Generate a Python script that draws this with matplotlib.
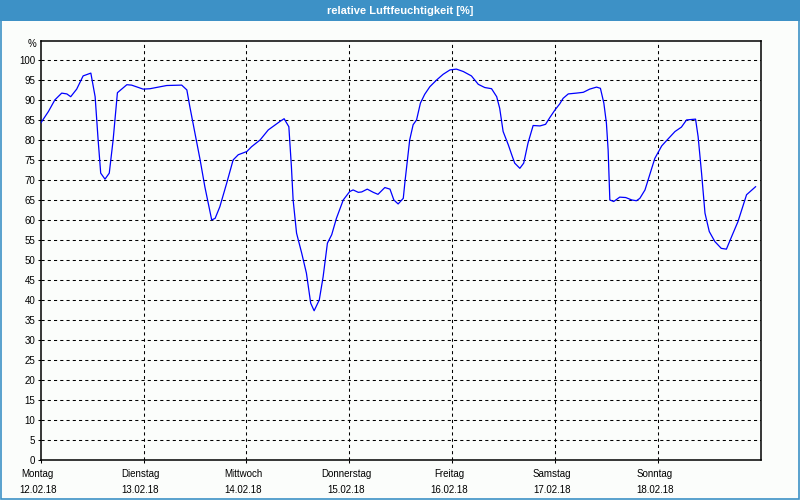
import matplotlib
matplotlib.use("Agg")
import matplotlib.pyplot as plt
import matplotlib.transforms as mtransforms
from matplotlib.patches import Rectangle

# hours since Montag 12.02.18 00:00
hours = [0, 1.8, 3.3, 4.9, 6.1, 7.0, 8.4, 9.9, 11.7, 12.7, 13.4, 14.0, 15.0, 16.0,
         16.9, 17.9, 20.1, 21.2, 23.9, 25.5, 27.4, 29.4, 32.9, 34.1, 34.8, 36.0,
         37.2, 38.3, 39.9, 40.7, 41.8, 43.4, 44.9, 46.1, 48.1, 49.2, 51.2, 53.1,
         55.8, 56.8, 57.9, 58.5, 58.9, 59.7, 60.9, 62.0, 63.0, 63.8, 65.0, 65.9,
         66.9, 67.9, 69.0, 70.6, 72.1, 72.9, 74.1, 74.9, 76.2, 77.6, 78.7, 80.3,
         81.5, 82.4, 83.4, 84.6, 85.0, 85.7, 86.1, 86.9, 87.7, 88.6, 89.6, 90.8,
         92.4, 93.9, 95.5, 97.0, 98.6, 100.5, 102.1, 103.6, 105.2, 106.4, 107.1,
         107.9, 109.1, 109.9, 110.6, 111.8, 112.7, 113.7, 114.9, 116.5, 117.8,
         118.8, 120.0, 121.1, 121.9, 123.1, 125.0, 126.6, 128.1, 129.7, 130.6,
         131.4, 132.0, 132.4, 132.8, 133.7, 135.1, 136.5, 137.9, 139.0, 139.8,
         141.0, 142.1, 143.3, 144.9, 146.0, 148.0, 149.5, 150.7, 152.8, 153.4,
         154.2, 155.0, 156.0, 157.3, 158.8, 160.0, 161.2, 162.7, 164.7, 166.8]
humidity = [84.2, 87.1, 90.0, 91.7, 91.5, 90.8, 92.7, 96.0, 96.7, 90.8, 80.0, 71.7, 70.2, 71.7,
            80.0, 91.8, 93.8, 93.7, 92.7, 92.8, 93.2, 93.6, 93.7, 92.5, 88.3, 81.7,
            75.0, 68.3, 60.0, 60.4, 63.3, 69.2, 75.0, 76.3, 77.1, 78.3, 80.0, 82.5,
            84.6, 85.3, 83.3, 73.3, 65.0, 56.7, 51.7, 46.7, 39.2, 37.3, 40.0, 45.8,
            54.2, 56.3, 60.4, 65.0, 67.1, 67.5, 66.9, 67.0, 67.7, 66.9, 66.4, 68.1,
            67.7, 65.0, 64.0, 65.4, 69.6, 76.3, 80.0, 83.8, 85.0, 89.2, 91.4, 93.3,
            95.0, 96.4, 97.5, 97.7, 97.1, 96.0, 93.9, 93.1, 92.8, 90.8, 87.9,
            82.1, 78.8, 76.3, 74.2, 72.9, 74.2, 79.2, 83.6, 83.5, 83.9,
            85.6, 87.5, 89.0, 90.4, 91.5, 91.7, 91.9, 92.7, 93.2, 92.9,
            89.2, 84.2, 77.5, 65.0, 64.6, 65.7, 65.6, 65.0, 64.8, 65.4,
            67.5, 71.3, 75.4, 78.5, 79.8, 82.1, 83.2, 85.0, 85.2, 80.8,
            71.7, 61.7, 57.1, 54.6, 52.9, 52.7, 55.8, 59.6, 66.3, 68.3]

day_names = ["Montag", "Dienstag", "Mittwoch", "Donnerstag", "Freitag", "Samstag", "Sonntag"]
day_dates = ["12.02.18", "13.02.18", "14.02.18", "15.02.18", "16.02.18", "17.02.18", "18.02.18"]
y_ticks = list(range(0, 101, 5))

bg = "#fbfdfb"
bar_blue = "#3d91c6"
plt.rcParams["font.family"] = ["Liberation Sans", "DejaVu Sans"]

fig = plt.figure(figsize=(8, 5), dpi=100, facecolor=bg)
ax = fig.add_axes([40.7 / 800, 40 / 500, 720 / 800, 419.3 / 500])
ax.set_facecolor(bg)

# title bar and thin frame
fig.patches.append(Rectangle((0, 1 - 20.7 / 500), 1, 20.7 / 500, transform=fig.transFigure,
                             facecolor=bar_blue, edgecolor="none", zorder=0))
fig.patches.append(Rectangle((0.6 / 800, 0.6 / 500), 798.8 / 800, 498.8 / 500, transform=fig.transFigure,
                             facecolor="none", edgecolor=bar_blue, lw=1.2, zorder=1))
fig.text(0.5, 1 - 10.5 / 500, "relative Luftfeuchtigkeit [%]", color="white",
         fontsize=8, fontweight="bold", ha="center", va="center")

ax.plot(hours, humidity, color="#0000ff", lw=0.9, zorder=3)

ax.set_xlim(0, 168)
ax.set_ylim(0, 104.8)

for y in y_ticks[1:]:
    ax.axhline(y, color="black", lw=0.75, linestyle=(0, (3, 3)), zorder=1)
for d in range(1, 7):
    ax.axvline(d * 24, color="black", lw=0.75, linestyle=(0, (3, 3)), zorder=1)

ax.set_yticks(y_ticks)
ax.set_yticklabels([str(v) for v in y_ticks], fontsize=7)
ax.set_xticks([d * 24 for d in range(7)])
ax.set_xticklabels([n + "\n" + dt for n, dt in zip(day_names, day_dates)],
                   fontsize=7, linespacing=1.75)
ax.tick_params(axis="y", length=2, width=0.75, pad=2)
ax.tick_params(axis="x", length=2.5, width=0.75, pad=4)
shift = mtransforms.ScaledTranslation(-3 / 100, 0, fig.dpi_scale_trans)
for lab in ax.get_xticklabels():
    lab.set_transform(lab.get_transform() + shift)
for s in ax.spines.values():
    s.set_linewidth(1.1)
    s.set_color("black")

ax.text(-0.006, 1.0 - 3.3 / 419.3, "%", transform=ax.transAxes, ha="right", va="center", fontsize=7)

fig.savefig("out.png", dpi=100, facecolor=bg)
